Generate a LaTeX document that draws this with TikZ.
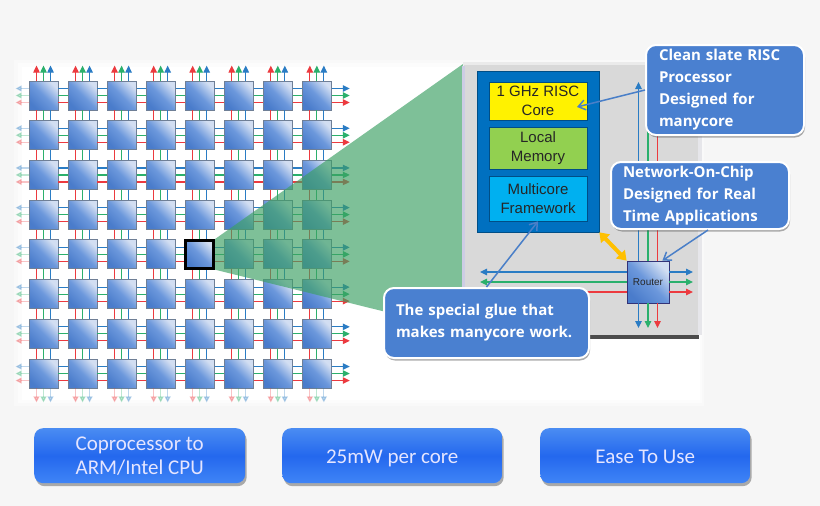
\documentclass[tikz,border=0pt]{standalone}
\usepackage{fontspec}
\setmainfont{Liberation Sans}
\newfontfamily\callfont{Open Sans}
\newfontfamily\btnfont{Carlito}
\usetikzlibrary{arrows.meta,shadows}
\definecolor{bgc}{HTML}{F6F6F6}
\definecolor{wr}{HTML}{EC3A3F}
\definecolor{wg}{HTML}{2BB06C}
\definecolor{wb}{HTML}{2A7CC4}
\definecolor{beamc}{RGB}{60,160,100}
\definecolor{callc}{HTML}{4A80D0}
\definecolor{arrc}{HTML}{4A7FC8}
\definecolor{tilet}{HTML}{D2DEF2}
\definecolor{tilem}{HTML}{6C98DC}
\definecolor{tileb}{HTML}{4A7CCB}
\definecolor{tileline}{HTML}{6F7F96}
\definecolor{blockc}{HTML}{0070C0}
\definecolor{memc}{HTML}{92D050}
\definecolor{multc}{HTML}{00B0F0}
\definecolor{btnt}{HTML}{4A8CF2}
\definecolor{btnm}{HTML}{2468EE}
\definecolor{btnb}{HTML}{3F84F6}
\definecolor{yarrow}{HTML}{FFC000}
\tikzset{
  x=1pt,y=-1pt,
  tile/.style={draw=tileline,line width=.8pt,minimum size=29pt,inner sep=0pt,
    top color=tilet,bottom color=tileb,middle color=tilem,shading angle=-45},
  wire/.style={line width=1.15pt},
  tipa/.style={-{Triangle[length=7pt,width=6.5pt]}},
  tipf/.style={-{Triangle[length=6pt,width=6pt]},opacity=.3},
  memblock/.style={draw=blockc!70!black,line width=.7pt,minimum width=98pt,inner sep=0pt,
    align=center,text=black!85,font=\fontsize{15}{19}\selectfont},
  callout/.style={draw=white,line width=2pt,fill=callc,rounded corners=10pt,text=white,
    align=left,anchor=north west,inner sep=0pt,drop shadow={shadow xshift=1pt,shadow yshift=-2.5pt,opacity=.45,fill=black!70},
    font=\callfont\bfseries\fontsize{15}{22}\selectfont},
  pointer/.style={draw=arrc,line width=1.5pt,-{Straight Barb[length=7pt,width=10pt]}},
  btn/.style={rounded corners=9pt,top color=btnt,bottom color=btnb,middle color=btnm,text=white!90!blue,
    inner sep=0pt,minimum height=55pt,anchor=north west,
    drop shadow={shadow xshift=1.5pt,shadow yshift=-3pt,opacity=.45,fill=black!70},
    font=\btnfont\fontsize{21}{24}\selectfont},
  btnone/.style={btn,text height=15pt,text depth=0pt},
}
\begin{document}
\begin{tikzpicture}
\useasboundingbox (0,0) rectangle (820,506);
\fill[bgc] (0,0) rectangle (820,506);
\fill[white!35!bgc] (14,60) rectangle (704,406);
\fill[white!70!bgc] (18,63) rectangle (702,403);
\fill[white] (22,67) rectangle (700,400);
% grid
\foreach \r in {1,...,8} \foreach \c in {1,...,8} {
  \node[tile] (t-\r-\c) at ({43.5+39.05*(\c-1)},{95.5+39.72*(\r-1)}) {};
}
% horizontal wires
\foreach \r in {1,...,8} {
  \foreach \c/\n in {1/2,2/3,3/4,4/5,5/6,6/7,7/8} {
    \draw[wire,wb] ([yshift=7pt]t-\r-\c.east) -- ([yshift=7pt]t-\r-\n.west);
    \draw[wire,wg] (t-\r-\c.east) -- (t-\r-\n.west);
    \draw[wire,wr] ([yshift=-7pt]t-\r-\c.east) -- ([yshift=-7pt]t-\r-\n.west);
  }
  \coordinate (lf-\r) at ([xshift=-13pt]t-\r-1.west);
  \coordinate (rt-\r) at ([xshift=18pt]t-\r-8.east);
  \draw[wire,wb,tipf] ([yshift=7pt]t-\r-1.west) -- ([yshift=7pt]lf-\r);
  \draw[wire,wg,tipf] (t-\r-1.west) -- (lf-\r);
  \draw[wire,wr,tipf] ([yshift=-7pt]t-\r-1.west) -- ([yshift=-7pt]lf-\r);
  \draw[wire,wb,tipa] ([yshift=7pt]t-\r-8.east) -- ([yshift=7pt]rt-\r);
  \draw[wire,wg,tipa] (t-\r-8.east) -- (rt-\r);
  \draw[wire,wr,tipa] ([yshift=-7pt]t-\r-8.east) -- ([yshift=-7pt]rt-\r);
}
% vertical wires
\foreach \c in {1,...,8} {
  \foreach \r/\n in {1/2,2/3,3/4,4/5,5/6,6/7,7/8} {
    \draw[wire,wr] ([xshift=-7pt]t-\r-\c.south) -- ([xshift=-7pt]t-\n-\c.north);
    \draw[wire,wg] (t-\r-\c.south) -- (t-\n-\c.north);
    \draw[wire,wb] ([xshift=7pt]t-\r-\c.south) -- ([xshift=7pt]t-\n-\c.north);
  }
  \coordinate (up-\c) at ([yshift=15pt]t-1-\c.north);
  \coordinate (dn-\c) at ([yshift=-14pt]t-8-\c.south);
  \draw[wire,wr,tipa] ([xshift=-7pt]t-1-\c.north) -- ([xshift=-7pt]up-\c);
  \draw[wire,wg,tipa] (t-1-\c.north) -- (up-\c);
  \draw[wire,wb,tipa] ([xshift=7pt]t-1-\c.north) -- ([xshift=7pt]up-\c);
  \draw[wire,wr,tipf] ([xshift=-7pt]t-8-\c.south) -- ([xshift=-7pt]dn-\c);
  \draw[wire,wg,tipf] (t-8-\c.south) -- (dn-\c);
  \draw[wire,wb,tipf] ([xshift=7pt]t-8-\c.south) -- ([xshift=7pt]dn-\c);
}
% selected tile and beam
\node[tile,draw=black,line width=2.6pt,minimum size=28pt] (sel) at (t-5-5) {};
\fill[beamc,opacity=.66] (sel.north east) -- (463,64) -- (463,331) -- (sel.south east) -- cycle;
% panel
\fill[black!8] (463,62) rectangle (700,65);
\fill[black!15] (464,65) rectangle (698,335);
\fill[blue!30!gray!30] (462,66) rectangle (465,335);
\fill[blue!10!gray!18] (698,68) rectangle (702,335);
\fill[black!70] (463,335) rectangle (699,339);
% block
\node[draw=blockc!70!black,line width=.6pt,fill=blockc,minimum width=122pt,minimum height=161pt,inner sep=0pt] (block) at (538,151.5) {};
\node[memblock,fill=yellow,minimum height=38pt] (core) at (538,101) {1 GHz RISC\\Core};
\node[memblock,fill=memc,minimum height=42pt] (mem) at (538,148) {Local\\Memory};
\node[memblock,fill=multc,minimum height=44.5pt] (multi) at (538,198.7) {Multicore\\Framework};
% router
\node[tile,draw=black!55!blue!60!gray,minimum size=42pt,font=\fontsize{10}{12}\selectfont,text=black!85] (router) at (648,282) {Router};
\coordinate (rtop) at (648,82);
\coordinate (rbot) at (648,328);
\coordinate (rleft) at (480,282);
\coordinate (rright) at (693,282);
\coordinate (rredl) at (500,292);
\draw[wire,wb,tipa] ([xshift=-9.5pt]router.north) -- ([xshift=-9.5pt]rtop);
\draw[wire,wg] (router.north) -- (648,125);
\draw[wire,wr] ([xshift=9.5pt]router.north) -- (657.5,125);
\draw[wire,wb,tipa] ([xshift=-9.5pt]router.south) -- ([xshift=-9.5pt]rbot);
\draw[wire,wg,tipa] (router.south) -- (rbot);
\draw[wire,wr,tipa] ([xshift=9.5pt]router.south) -- ([xshift=9.5pt]rbot);
\draw[wire,wb,tipa] ([yshift=10pt]router.west) -- ([yshift=10pt]rleft);
\draw[wire,wg,tipa] (router.west) -- (rleft);
\draw[wire,wr] ([yshift=-10pt]router.west) -- (rredl);
\draw[wire,wb,tipa] ([yshift=10pt]router.east) -- ([yshift=10pt]rright);
\draw[wire,wg,tipa] (router.east) -- (rright);
\draw[wire,wr,tipa] ([yshift=-10pt]router.east) -- ([yshift=-10pt]rright);
\draw[line width=4pt,draw=yarrow,{Triangle[length=9pt,width=12pt]}-{Triangle[length=9pt,width=12pt]}] (block.south east) -- (router.north west);
% callouts
\node[callout,minimum width=158pt,minimum height=90pt,text width=158pt] (clean) at (645,44) {\hspace*{13pt}Clean slate RISC\\\hspace*{13pt}Processor\\\hspace*{13pt}Designed for\\\hspace*{13pt}manycore};
\node[callout,minimum width=178pt,minimum height=67pt,text width=178pt] (net) at (610,161) {\hspace*{12pt}Network-On-Chip\\\hspace*{12pt}Designed for Real\\\hspace*{12pt}Time Applications};
\node[callout,minimum width=205pt,minimum height=70pt,text width=205pt] (glue) at (383,287) {\hspace*{12pt}The special glue that\\\hspace*{12pt}makes manycore work.};
\coordinate (coretip) at (577,107);
\draw[pointer] (clean.west) -- (coretip);
\draw[pointer] (glue.north) -- (multi.south);
\draw[pointer] ([xshift=8pt]net.south) -- ([xshift=-7pt]router.north east);
% buttons
\node[btn,align=center,minimum width=211pt] (b1) at (34,428) {Coprocessor to\\ARM/Intel CPU};
\node[btnone,minimum width=220pt] (b2) at (282,428) {25mW per core};
\node[btnone,minimum width=210pt] (b3) at (540,428) {Ease To Use};
\end{tikzpicture}
\end{document}
